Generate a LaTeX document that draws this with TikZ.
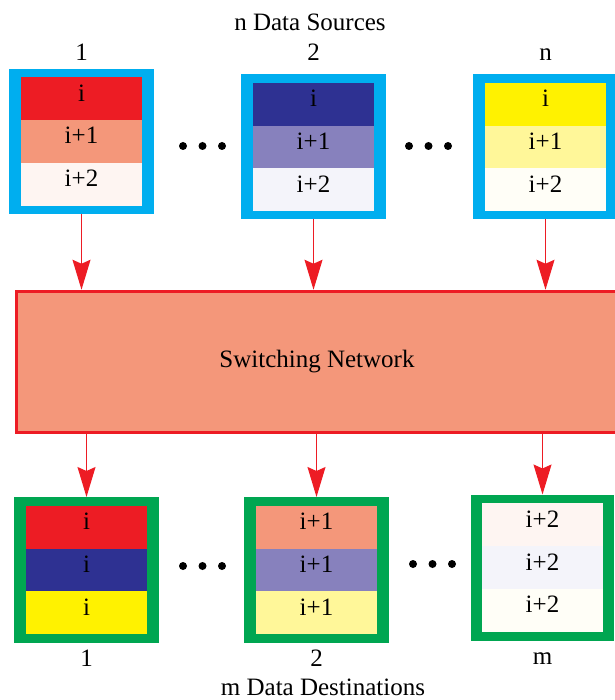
\documentclass[tikz,border=0pt]{standalone}
\usepackage{fontspec}
\setmainfont{Liberation Serif}
\usetikzlibrary{positioning,arrows.meta}

\definecolor{srccyan}{HTML}{00AEEF}
\definecolor{dstgreen}{HTML}{00A651}
\definecolor{netred}{HTML}{ED1C24}
\definecolor{salmon}{HTML}{F4977A}
\definecolor{navy}{HTML}{2E3192}
\definecolor{lavender}{HTML}{8781BD}
\definecolor{sunyellow}{HTML}{FFF200}
\definecolor{paleyellow}{HTML}{FFF799}
\definecolor{palered}{HTML}{FEF5F2}
\definecolor{paleblue}{HTML}{F4F4FA}
\definecolor{paleyel}{HTML}{FFFEF7}

\tikzset{
	srcframe/.style={fill=srccyan, minimum width=145pt, minimum height=145pt, inner sep=0pt, outer sep=0pt},
	dstframe/.style={fill=dstgreen, minimum width=145pt, minimum height=146pt, inner sep=0pt, outer sep=0pt},
	cell/.style={minimum width=121pt, minimum height=42.67pt, inner sep=0pt, outer sep=0pt, text height=13pt, text depth=8pt},
	netbox/.style={draw=netred, fill=salmon, line width=3.5pt, minimum width=601pt, minimum height=141pt},
	flow/.style={draw=netred, line width=1.2pt, -{Stealth[length=30pt,width=18pt,inset=4pt,fill=netred]}},
}

\begin{document}
\begin{tikzpicture}[x=1pt, y=-1pt, font=\fontsize{25}{30}\selectfont]
			%%%%% START %%%%%
			\useasboundingbox (0,0) rectangle (614,700);
			
			\node[anchor=base] (srctitle) at (310,31) {n Data Sources};
			
			% sources
			\node[srcframe] (src1) at (81.5,141.5) {};
			\node[cell, fill=salmon] (s1b) at (src1) {i+1};
			\node[cell, fill=netred, above=0pt of s1b] (s1a) {i};
			\node[cell, fill=palered, below=0pt of s1b] (s1c) {i+2};
			\node[anchor=base] (src1lab) at (81.5,61) {1};
			
			\node[srcframe] (src2) at (313.5,147) {};
			\node[cell, fill=lavender] (s2b) at (src2) {i+1};
			\node[cell, fill=navy, above=0pt of s2b] (s2a) {i};
			\node[cell, fill=paleblue, below=0pt of s2b] (s2c) {i+2};
			\node[anchor=base] (src2lab) at (313.5,61) {2};
			
			\node[srcframe] (srcn) at (545.5,147) {};
			\node[cell, fill=paleyellow] (snb) at (srcn) {i+1};
			\node[cell, fill=sunyellow, above=0pt of snb] (sna) {i};
			\node[cell, fill=paleyel, below=0pt of snb] (snc) {i+2};
			\node[anchor=base] (srcnlab) at (545.5,61) {n};
			
			\foreach \x in {183,202.5,222} \fill (\x,146) circle (4);
			\foreach \x in {409,428.5,448} \fill (\x,146) circle (4);
			
			% network
			\node[netbox] (net) at (317,362) {Switching Network};
			
			\draw[flow] (src1.south) -- (src1.south |- net.north);
			\draw[flow] (src2.south) -- (src2.south |- net.north);
			\draw[flow] (srcn.south) -- (srcn.south |- net.north);
			
			% destinations
			\node[dstframe] (dst1) at (86.5,570) {};
			\node[cell, fill=navy] (d1b) at (dst1) {i};
			\node[cell, fill=netred, above=0pt of d1b] (d1a) {i};
			\node[cell, fill=sunyellow, below=0pt of d1b] (d1c) {i};
			\node[anchor=base] (dst1lab) at (86.5,666) {1};
			
			\node[dstframe] (dst2) at (316.5,570) {};
			\node[cell, fill=lavender] (d2b) at (dst2) {i+1};
			\node[cell, fill=salmon, above=0pt of d2b] (d2a) {i+1};
			\node[cell, fill=paleyellow, below=0pt of d2b] (d2c) {i+1};
			\node[anchor=base] (dst2lab) at (316.5,666) {2};
			
			\node[dstframe, minimum width=143pt] (dstm) at (542.5,567.5) {};
			\node[cell, fill=paleblue] (dmb) at (dstm) {i+2};
			\node[cell, fill=palered, above=0pt of dmb] (dma) {i+2};
			\node[cell, fill=paleyel, below=0pt of dmb] (dmc) {i+2};
			\node[anchor=base] (dstmlab) at (542.5,664) {m};
			
			\foreach \x in {183,202.5,222} \fill (\x,566) circle (4);
			\foreach \x in {413,432.5,452} \fill (\x,564) circle (4);
			
			\draw[flow] (net.south -| dst1.north) -- (dst1.north);
			\draw[flow] (net.south -| dst2.north) -- (dst2.north);
			\draw[flow] (net.south -| dstm.north) -- (dstm.north);
			
			\node[anchor=base, inner sep=0pt] (dsttitle) at (323,695) {m Data Destinations};
			
			%%%%% END %%%%%
\end{tikzpicture}
\end{document}
